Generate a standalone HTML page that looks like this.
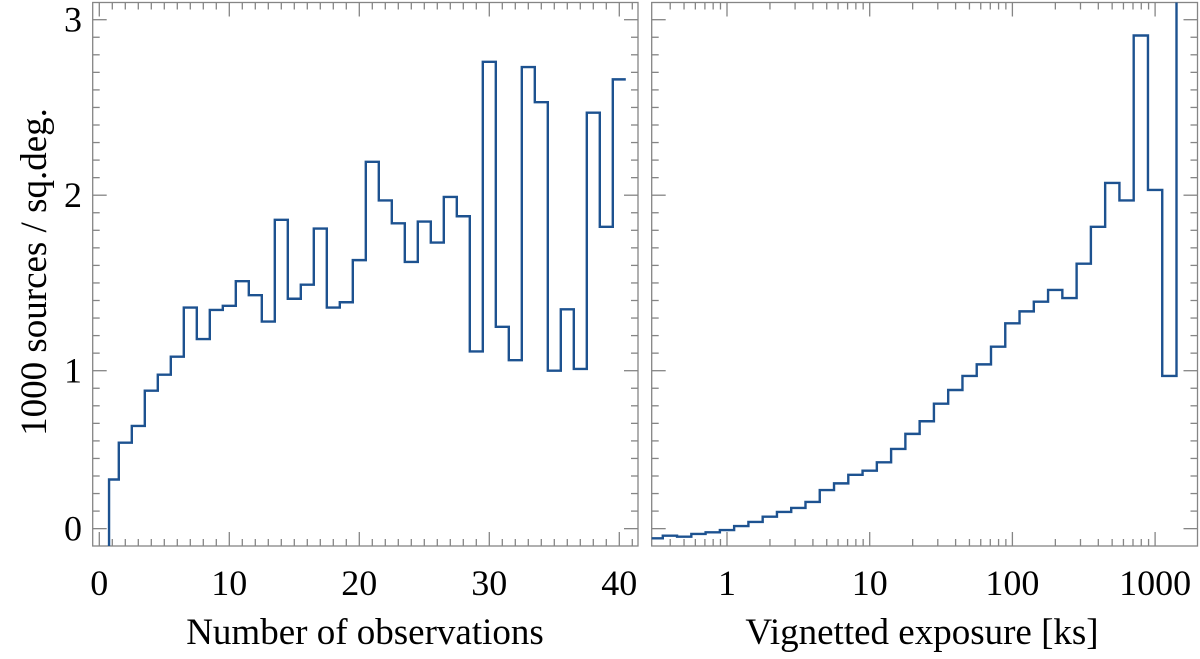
<!DOCTYPE html>
<html><head><meta charset="utf-8"><style>
html,body{margin:0;padding:0;background:#fff;font-family:"Liberation Serif","Times New Roman","DejaVu Serif",serif;}
svg text{font-family:"Liberation Serif","Times New Roman","DejaVu Serif",serif;fill:#000;}
</style></head><body>
<svg id="chart" width="1200" height="654" viewBox="0 0 1200 654" xmlns="http://www.w3.org/2000/svg" font-family="Liberation Serif, Times New Roman, DejaVu Serif, serif"></svg>
<script>
// Left panel data: number of observations histogram (bin centers 1..40)
const obsBins = [1,2,3,4,5,6,7,8,9,10,11,12,13,14,15,16,17,18,19,20,21,22,23,24,25,26,27,28,29,30,31,32,33,34,35,36,37,38,39,40];
const obsValues = [0.38,0.59,0.685,0.886,0.977,1.08,1.36,1.18,1.346,1.37,1.51,1.43,1.28,1.86,1.41,1.49,1.81,1.36,1.39,1.63,2.19,1.97,1.84,1.62,1.85,1.73,1.99,1.88,1.11,2.76,1.25,1.06,2.73,2.53,1.00,1.35,1.01,2.47,1.82,2.66];
const obsTicks = [0,10,20,30,40];
// Right panel data: log10 lower bin edges of exposure (ks), width 0.1 dex
const expLogEdges = [-0.55,-0.45,-0.35,-0.25,-0.15,-0.05,0.05,0.15,0.25,0.35,0.45,0.55,0.65,0.75,0.85,0.95,1.05,1.15,1.25,1.35,1.45,1.55,1.65,1.75,1.85,1.95,2.05,2.15,2.25,2.35,2.45,2.55,2.65,2.75,2.85,2.95,3.05,3.15];
const expValues = [0.045,0.06,0.054,0.07,0.079,0.092,0.115,0.138,0.168,0.195,0.218,0.252,0.32,0.358,0.407,0.43,0.478,0.554,0.64,0.712,0.812,0.89,0.97,1.036,1.137,1.27,1.338,1.393,1.46,1.414,1.61,1.82,2.07,1.97,2.91,2.03,0.97,3.4];
const expTicks = [1,10,100,1000];
const yTickValues = [1,2,3];

const NS="http://www.w3.org/2000/svg";
const FONT="Liberation Serif, Times New Roman, DejaVu Serif, serif";
const svg=document.getElementById('chart');
function mk(tag,attrs,parent){const e=document.createElementNS(NS,tag);for(const k in attrs)e.setAttribute(k,attrs[k]);if(tag==='text')e.setAttribute('font-family',FONT);(parent||svg).appendChild(e);return e;}

const yTop=2.5, yBottom=546;
function Y(v){return 370.7-(v-1)*175.5;}
const L={x0:92.7,x1:638};
function XL(v){return 99.3+v*13;}
const R={x0:651.7,x1:1197.5};
function XR(lg){return 727+lg*142.7;}
const tickCol="#858585";

function frame(p,name){
  const r=mk('rect',{x:p.x0,y:yTop,width:p.x1-p.x0,height:yBottom-yTop,fill:'none',stroke:tickCol,'stroke-width':1.3});
  
  
  for(let i=0;i<=31;i++){
    const v=i/10; const y=Y(v);
    if(y<yTop+1||y>yBottom-1)continue;
    const major=(i%10===0&&i>0)||i===1;
    const len=major?14:7;
    const g=mk('g',{});
    
    
    mk('line',{x1:p.x0,x2:p.x0+len,y1:y,y2:y,stroke:tickCol,'stroke-width':1.3},g);
    mk('line',{x1:p.x1,x2:p.x1-len,y1:y,y2:y,stroke:tickCol,'stroke-width':1.3},g);
  }
}
frame(L,'left-plot-frame');
frame(R,'right-plot-frame');

for(let v=0;v<=41;v++){
  const x=XL(v); if(x<L.x0+1||x>L.x1-1)continue;
  const len=(v%10===0)?14:7;
  const g=mk('g',{});
  
  
  mk('line',{x1:x,x2:x,y1:yBottom,y2:yBottom-len,stroke:tickCol,'stroke-width':1.3},g);
  mk('line',{x1:x,x2:x,y1:yTop,y2:yTop+len,stroke:tickCol,'stroke-width':1.3},g);
}
obsTicks.forEach(v=>{
  const t=mk('text',{x:XL(v),y:595,'font-size':36,'text-anchor':'middle'});
  t.textContent=v;
  
  
});
for(let d=-1;d<=3;d++){
  for(let m=1;m<=9;m++){
    const lg=d+Math.log10(m); const x=XR(lg);
    if(x<R.x0+1||x>R.x1-1)continue;
    const len=m===1?14:7;
    const g=mk('g',{});
    
    
    mk('line',{x1:x,x2:x,y1:yBottom,y2:yBottom-len,stroke:tickCol,'stroke-width':1.3},g);
    mk('line',{x1:x,x2:x,y1:yTop,y2:yTop+len,stroke:tickCol,'stroke-width':1.3},g);
  }
}
expTicks.forEach(v=>{
  const t=mk('text',{x:XR(Math.log10(v)),y:595,'font-size':36,'text-anchor':'middle'});
  t.textContent=v;
  
  
});
yTickValues.forEach(v=>{
  const t=mk('text',{x:82,y:Y(v)+12,'font-size':36,'text-anchor':'end'});
  t.textContent=v;
  
  
});
const t0=mk('text',{x:82,y:Y(0.1)+12,'font-size':36,'text-anchor':'end'});
t0.textContent='0';



const xt1=mk('text',{x:365,y:644,'font-size':37,'text-anchor':'middle'});
xt1.textContent='Number of observations';


const xt2=mk('text',{x:922,y:644,'font-size':37,'text-anchor':'middle'});
xt2.textContent='Vignetted exposure [ks]';


const yt=mk('text',{x:0,y:0,'font-size':37,'text-anchor':'middle',transform:'translate(46,272) rotate(-90)'});
yt.textContent='1000 sources / sq.deg.';



const defsEl=mk('defs',{});
const c1=mk('clipPath',{id:'cl'},defsEl); mk('rect',{x:L.x0,y:yTop,width:L.x1-L.x0,height:yBottom-yTop},c1);
const c2=mk('clipPath',{id:'cr'},defsEl); mk('rect',{x:R.x0,y:yTop,width:R.x1-R.x0,height:yBottom-yTop},c2);

let pathL='M'+XL(0.75)+','+yBottom;
obsBins.forEach((b,i)=>{
  const xa=i===0?XL(0.75):XL(b-0.5), xb=XL(b+0.5), y=Y(obsValues[i]);
  pathL+=' L'+xa+','+y+' L'+xb+','+y;
});
const p1=mk('path',{d:pathL,fill:'none',stroke:'#1d5290','stroke-width':2.4,'clip-path':'url(#cl)'});



let pathR='';
expLogEdges.forEach((e,i)=>{
  const xa=XR(e), xb=XR(e+0.1), y=Y(expValues[i]);
  pathR+=(i===0?'M':' L')+xa+','+y+' L'+xb+','+y;
});
const p2=mk('path',{d:pathR,fill:'none',stroke:'#1d5290','stroke-width':2.4,'clip-path':'url(#cr)'});


</script>
</body></html>
